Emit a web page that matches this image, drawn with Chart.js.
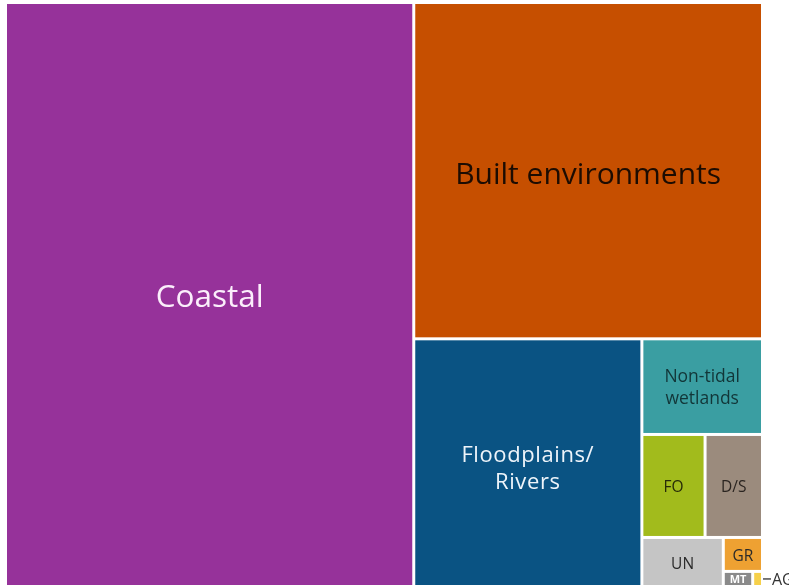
<!DOCTYPE html>
<html>
<head>
<meta charset="utf-8">
<script src="https://cdn.jsdelivr.net/npm/chart.js@4.4.1/dist/chart.umd.min.js"></script>
<style>
  html, body { margin: 0; padding: 0; background: #fff; }
  #wrap { width: 789px; height: 587px; }
</style>
</head>
<body>
<div id="wrap"><canvas id="myChart" width="789" height="587"></canvas></div>
<script>
// habitat categories, largest first
const labels = ['Coastal', 'Built environments', 'Floodplains/\nRivers', 'Non-tidal\nwetlands', 'FO', 'D/S', 'UN', 'GR', 'MT', 'AG'];
const counts = [1612, 793, 382, 78, 44, 40, 27, 9, 3, 1];

// tile look
const colors = ['#96329a', '#c64f00', '#0a5383', '#3a9ea2', '#a2bb1c', '#9b8b7d', '#c5c5c5', '#eea132', '#8a8a8a', '#f6d04a'];
const textColors = ['#fbeefb', '#1c0c02', '#eef4fa', '#123638', '#262a08', '#2a2420', '#2a2a2a', '#2a2a2a', '#ffffff', '#333333'];
const fontSizes = [31.5, 30, 22, 17.5, 15.5, 15.5, 15.5, 15.5, 11, 16];
const fontWeights = [400, 400, 500, 500, 500, 500, 500, 500, 700, 400];
const textShift = [1, 3, 5, 0, 1, 1, 1, 1, 0, 0];

function worst(row, side) {
  const s = row.reduce((a, b) => a + b, 0);
  let w = 0;
  row.forEach(r => {
    w = Math.max(w, (side * side * r) / (s * s), (s * s) / (side * side * r));
  });
  return w;
}

// squarified layout in a w x h box
function squarify(vals, x, y, w, h) {
  const total = vals.reduce((a, b) => a + b, 0);
  const areas = vals.map(v => v * w * h / total);
  const out = [];
  let i = 0;
  while (i < areas.length) {
    const side = Math.min(w, h);
    let row = [areas[i]];
    let best = worst(row, side);
    let j = i + 1;
    while (j < areas.length) {
      const next = row.concat(areas[j]);
      const wr = worst(next, side);
      if (wr > best) break;
      row = next; best = wr; j++;
    }
    const rowSum = row.reduce((a, b) => a + b, 0);
    if (w >= h) {
      const cw = rowSum / h;
      let cy = y;
      row.forEach(a => { const ch = a / cw; out.push({x: x, y: cy, w: cw, h: ch}); cy += ch; });
      x += cw; w -= cw;
    } else {
      const rh = rowSum / w;
      let cx = x;
      row.forEach(a => { const cw = a / rh; out.push({x: cx, y: y, w: cw, h: rh}); cx += cw; });
      y += rh; h -= rh;
    }
    i = j;
  }
  return out;
}

const treemapPlugin = {
  id: 'treemap',
  afterDatasetsDraw(chart) {
    const ctx = chart.ctx;
    const xs = chart.scales.x, ys = chart.scales.y;
    const area = chart.chartArea;
    const aspect = (area.right - area.left) / (area.bottom - area.top);
    const tiles = squarify(counts, 0, 0, aspect, 1);
    const gap = 1.5;

    ctx.save();
    tiles.forEach((t, i) => {
      const left = xs.getPixelForValue(t.x / aspect) + gap;
      const right = xs.getPixelForValue((t.x + t.w) / aspect) - gap;
      const top = ys.getPixelForValue(t.y) + gap;
      const bottom = ys.getPixelForValue(t.y + t.h) - gap;
      ctx.fillStyle = colors[i];
      ctx.fillRect(left, top, right - left, bottom - top);

      const size = fontSizes[i];
      const cx = (left + right) / 2, cy = (top + bottom) / 2 + textShift[i];
      ctx.fillStyle = textColors[i];
      ctx.textAlign = 'center';
      ctx.textBaseline = 'alphabetic';
      ctx.font = fontWeights[i] + ' ' + size + 'px "Open Sans", sans-serif';
      ctx.letterSpacing = i === 2 ? '0.6px' : '0px';
      const cap = size * 0.714;

      if (labels[i] === 'AG') {
        // too small for text: leader line out to the right
        ctx.strokeStyle = '#333';
        ctx.lineWidth = 1.3;
        ctx.beginPath();
        ctx.moveTo(right + 2, cy);
        ctx.lineTo(right + 10, cy);
        ctx.stroke();
        ctx.textAlign = 'left';
        ctx.fillText('AG', right + 11, cy + cap / 2);
        return;
      }
      const lines = labels[i].split('\n');
      const lh = size * 1.25;
      const base = cy + (cap - (lines.length - 1) * lh) / 2;
      lines.forEach((ln, k) => {
        ctx.fillText(ln, cx, base + k * lh);
      });
    });
    ctx.restore();
  }
};

const myChart = new Chart(document.getElementById('myChart'), {
  type: 'scatter',
  data: {
    labels: labels,
    datasets: [{ data: [] }]
  },
  options: {
    responsive: false,
    animation: false,
    layout: { padding: { left: 5.5, right: 26.5, top: 2.5, bottom: 0.5 } },
    scales: {
      x: { type: 'linear', min: 0, max: 1, display: false },
      y: { type: 'linear', min: 0, max: 1, reverse: true, display: false }
    },
    plugins: {
      legend: { display: false },
      tooltip: { enabled: false }
    }
  },
  plugins: [treemapPlugin]
});
</script>
</body>
</html>
